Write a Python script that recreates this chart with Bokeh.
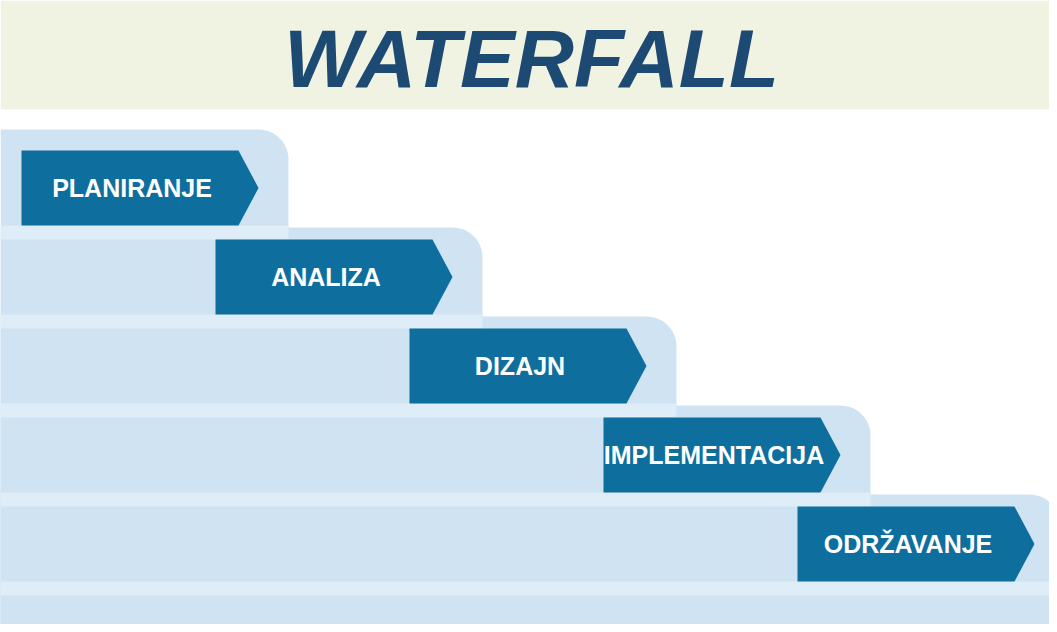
import numpy as np
from bokeh.plotting import figure
from bokeh.models import ColumnDataSource, Range1d
from bokeh.embed import file_html
from bokeh.resources import INLINE
from bokeh.core.properties import value

# ---- data ----
title_text = ["WATERFALL"]
phases = ["PLANIRANJE", "ANALIZA", "DIZAJN", "IMPLEMENTACIJA", "ODRŽAVANJE"]
steps = [0, 1, 2, 3, 4]

# ---- layout (pixels, measured from the plot's top-left corner) ----
W, H = 1049, 624
STEP_X, STEP_Y = 194, 89
ARROW_X0, ARROW_W, TIP = 21, 217, 20
ARROW_TOP0, ARROW_H = 150, 75
BAND_PAD_FIRST, BAND_PAD = 21, 12
BAND_EXTRA, RADIUS = 30, 30
TITLE_H = 109
STRIPE_H = 14
LABEL_SIZE = 25
TITLE_SIZE = 82

BG_TITLE = "#f1f3e2"
TITLE_COLOR = "#1c4a73"
BAND = "#cfe3f3"
STRIPE = "#deedf8"
ARROW = "#0e6e9e"


def fy(y):
    """top-down pixel -> data y"""
    return H - np.asarray(y, dtype=float)


s = np.array(steps)
a_left = ARROW_X0 + STEP_X * s
a_right = a_left + ARROW_W
a_tip = a_right + TIP
a_top = ARROW_TOP0 + STEP_Y * s
a_bot = a_top + ARROW_H
a_mid = (a_top + a_bot) / 2

band_top = np.where(s == 0, a_top - BAND_PAD_FIRST, a_top - BAND_PAD)
band_right = np.where(s == s.max(), W + 10, a_tip + BAND_EXTRA)

p = figure(width=W, height=H, x_range=Range1d(0, W), y_range=Range1d(0, H),
           output_backend="svg", toolbar_location=None, min_border=0,
           background_fill_color="white", border_fill_color="white")
p.axis.visible = False
p.grid.visible = False
p.outline_line_color = None

# title band
p.quad(left=[0], right=[W], top=[H], bottom=[fy(TITLE_H)], fill_color=BG_TITLE, line_color=None)

# step bands with rounded top-right corner
theta = np.linspace(np.pi / 2, 0, 16)
bx, by = [], []
for i in range(len(s)):
    r = RADIUS
    t = fy(band_top[i])
    rx = band_right[i]
    xs = [0, 0] + list(rx - r + r * np.cos(theta)) + [rx]
    ys = [0, t] + list(t - r + r * np.sin(theta)) + [0]
    bx.append(xs)
    by.append(ys)
p.patches(xs=bx, ys=by, fill_color=BAND, line_color=None)

# lighter stripes below each arrow
st_right = np.where(s == s.max(), W, band_right)
p.quad(left=np.zeros(len(s)), right=st_right, top=fy(a_bot), bottom=fy(a_bot + STRIPE_H),
       fill_color=STRIPE, line_color=None)

# arrows
ax, ay = [], []
for i in range(len(s)):
    ax.append([a_left[i], a_right[i], a_tip[i], a_right[i], a_left[i]])
    ay.append(list(fy([a_top[i], a_top[i], a_mid[i], a_bot[i], a_bot[i]])))
p.patches(xs=ax, ys=ay, fill_color=ARROW, line_color=None)

# labels
lab = ColumnDataSource(dict(x=(a_left + a_right) / 2 + 2, y=fy(a_mid + 0.36 * LABEL_SIZE), t=phases))
p.text(x="x", y="y", text="t", source=lab, text_color="white",
       text_font=value("Liberation Sans"), text_font_style="bold",
       text_font_size=f"{LABEL_SIZE}px", text_align="center", text_baseline="alphabetic",
       y_offset=-0.35 * LABEL_SIZE)

# title
p.text(x=[531], y=[fy(87)], text=title_text, text_color=TITLE_COLOR,
       text_font=value("Liberation Sans"), text_font_style="bold italic",
       text_font_size=f"{TITLE_SIZE}px", text_align="center", text_baseline="alphabetic",
       y_offset=-0.35 * TITLE_SIZE)

open("out.html", "w").write(file_html(p, INLINE))
